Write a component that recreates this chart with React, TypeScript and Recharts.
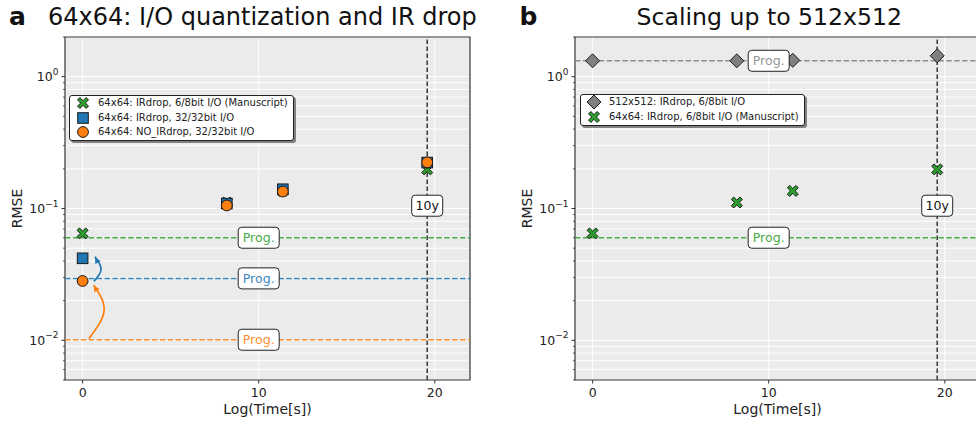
import React from 'react';
import {
  ComposedChart,
  Scatter,
  Line,
  XAxis,
  YAxis,
  CartesianGrid,
  ReferenceLine,
  ReferenceDot,
  ReferenceArea,
  Legend,
} from 'recharts';

const FONT = '"DejaVu Sans", Verdana, sans-serif';

// ---- data ----
const logTimes = [0, 8.19, 11.37, 19.57];
const rmseIrdrop68 = [0.0647, 0.111, 0.136, 0.198];
const rmseIrdrop32 = [0.0419, 0.109, 0.14, 0.223];
const rmseNoIrdrop32 = [0.0282, 0.1055, 0.1345, 0.224];
const rmse512 = [1.32, 1.32, 1.33, 1.44];

const progA = [0.06, 0.0295, 0.0101];
const progB = [1.32, 0.06];
const progLabelX = 10;
const tenYears = 19.57;
const tenYearLabelY = 0.105;

const arrowBlue = [
  { x: 0.64, y: 0.028 },
  { x: 1.05, y: 0.0345 },
  { x: 0.7, y: 0.043 },
];
const arrowOrange = [
  { x: 0.36, y: 0.0103 },
  { x: 1.22, y: 0.0168 },
  { x: 0.63, y: 0.0262 },
];

const xDomain = [-1, 22];
const yDomain = [0.005, 2];
const xTicks = [0, 10, 20];
const yTicks = [
  0.005, 0.006, 0.007, 0.008, 0.009, 0.01, 0.02, 0.03, 0.04, 0.05, 0.06, 0.07, 0.08, 0.09,
  0.1, 0.2, 0.3, 0.4, 0.5, 0.6, 0.7, 0.8, 0.9, 1, 2,
];
const yMajorTicks = [0.01, 0.1, 1];
const yMajorExp = ['−2', '−1', '0'];

const legendA = [
  { kind: 'x', color: '#2ca02c', label: '64x64: IRdrop, 6/8bit I/O (Manuscript)' },
  { kind: 's', color: '#1f77b4', label: '64x64: IRdrop, 32/32bit I/O' },
  { kind: 'o', color: '#ff7f0e', label: '64x64: NO_IRdrop, 32/32bit I/O' },
];
const legendB = [
  { kind: 'd', color: '#808080', label: '512x512: IRdrop, 6/8bit I/O' },
  { kind: 'x', color: '#2ca02c', label: '64x64: IRdrop, 6/8bit I/O (Manuscript)' },
];

// ---- styles ----
const GREEN = '#2ca02c';
const BLUE = '#1f77b4';
const ORANGE = '#ff7f0e';
const GREY = '#808080';
const EDGE = '#1a1a1a';
const BG = '#ebebeb';
const SPINE = '#333333';

const pts = (ys: number[]) => logTimes.map((x, i) => ({ x, y: ys[i] }));

function marker(kind: string, cx: number, cy: number, color: string, key?: any) {
  if (kind === 'x') {
    const h = 6.1;
    const t = 1.65;
    const base = [
      [t, h], [t, t], [h, t], [h, -t], [t, -t], [t, -h],
      [-t, -h], [-t, -t], [-h, -t], [-h, t], [-t, t], [-t, h],
    ];
    const s = Math.SQRT1_2;
    const p = base
      .map(([a, b]) => `${(cx + (a - b) * s).toFixed(2)},${(cy + (a + b) * s).toFixed(2)}`)
      .join(' ');
    return <polygon key={key} points={p} fill={color} stroke={EDGE} strokeWidth={1} strokeLinejoin="miter" />;
  }
  if (kind === 's') {
    const r = 5.3;
    return <rect key={key} x={cx - r} y={cy - r} width={2 * r} height={2 * r} fill={color} stroke={EDGE} strokeWidth={1} />;
  }
  if (kind === 'o') {
    return <circle key={key} cx={cx} cy={cy} r={5.4} fill={color} stroke={EDGE} strokeWidth={1} />;
  }
  const d = 7;
  return (
    <polygon
      key={key}
      points={`${cx},${cy - d} ${cx + d},${cy} ${cx},${cy + d} ${cx - d},${cy}`}
      fill={color}
      stroke={EDGE}
      strokeWidth={1}
    />
  );
}

const shapeOf = (kind: string, color: string) => (p: any) => marker(kind, p.cx, p.cy, color);

const YTick = (props: any) => {
  const { x, y, payload } = props;
  const v = payload.value;
  const idx = yMajorTicks.findIndex((m) => Math.abs(m - v) / m < 1e-6);
  if (idx < 0) {
    return <line x1={x} x2={x - 2} y1={y} y2={y} stroke={SPINE} strokeWidth={0.8} />;
  }
  return (
    <g>
      <line x1={x} x2={x - 3.5} y1={y} y2={y} stroke={SPINE} strokeWidth={1} />
      <text x={x - 6.5} y={y + 4.6} textAnchor="end" fontSize={12.5} fontFamily={FONT} fill="#222">
        <tspan>10</tspan>
        <tspan dy={-6.5} fontSize={9}>
          {yMajorExp[idx]}
        </tspan>
      </text>
    </g>
  );
};

const XTick = (props: any) => {
  const { x, y, payload } = props;
  return (
    <g>
      <line x1={x} x2={x} y1={y} y2={y + 3.5} stroke={SPINE} strokeWidth={1} />
      <text x={x} y={y + 16.8} textAnchor="middle" fontSize={12.5} fontFamily={FONT} fill="#222">
        {payload.value}
      </text>
    </g>
  );
};

const textBox = (label: string, color: string) => (p: any) => {
  const w = label.length > 3 ? 41 : 31;
  const h = 21;
  return (
    <g>
      <rect x={p.cx - w / 2} y={p.cy - h / 2} width={w} height={h} rx={3.5} ry={3.5} fill="#fff" stroke="#222" strokeWidth={1} />
      <text
        x={p.cx}
        y={p.cy + 4.5}
        textAnchor="middle"
        fontSize={12.6}
        fontFamily={FONT}
        fill={color}
      >
        {label}
      </text>
    </g>
  );
};

const arrowDot = (color: string, angleDeg: number) => (p: any) => {
  if (p.index !== 2) return <g key={p.key} />;
  const a = (angleDeg * Math.PI) / 180;
  const L = 6.5;
  const W = 3;
  const bx = p.cx - L * Math.cos(a);
  const by = p.cy - L * Math.sin(a);
  const nx = -Math.sin(a) * W;
  const ny = Math.cos(a) * W;
  return (
    <polygon
      key={p.key}
      points={`${p.cx},${p.cy} ${bx + nx},${by + ny} ${bx - nx},${by - ny}`}
      fill={color}
      stroke="none"
    />
  );
};

const LegendBox = ({ items }: { items: any[] }) => (
  <div
    style={{
      background: '#fff',
      border: '1px solid #222',
      borderRadius: 3,
      boxShadow: '2px 2px 0 rgba(0,0,0,0.45)',
      padding: '0px 5px 1px 5px',
      fontFamily: FONT,
      fontSize: 10,
      color: '#222',
      lineHeight: 1,
    }}
  >
    {items.map((it, i) => (
      <div key={i} style={{ display: 'flex', alignItems: 'center', height: 14.4, whiteSpace: 'nowrap' }}>
        <svg width={16} height={14} style={{ marginRight: 7, overflow: 'visible' }}>
          {marker(it.kind, 8, 7, it.color)}
        </svg>
        <span>{it.label}</span>
      </div>
    ))}
  </div>
);

const lineStyle = { strokeWidth: 1.5, strokeDasharray: '5.5 2.4' };

function PanelA() {
  return (
    <ComposedChart width={490} height={426} margin={{ top: 37, right: 20, bottom: 0, left: 0 }}>
      <CartesianGrid fill={BG} stroke="#ffffff" strokeWidth={1} />
      <XAxis
        type="number"
        dataKey="x"
        domain={xDomain}
        ticks={xTicks}
        interval={0}
        allowDataOverflow
        height={46}
        tickSize={0}
        tickMargin={0}
        axisLine={false}
        tick={<XTick />}
        label={{ value: 'Log(Time[s])', position: 'insideBottom', offset: 12.5, fontSize: 14, fontFamily: FONT, fill: '#222' }}
      />
      <YAxis
        type="number"
        dataKey="y"
        scale="log"
        domain={yDomain}
        ticks={yTicks}
        interval={0}
        allowDataOverflow
        width={65}
        tickSize={0}
        tickMargin={0}
        axisLine={false}
        tick={<YTick />}
        label={{ value: 'RMSE', position: 'center', angle: -90, dx: -15.5, fontSize: 14, fontFamily: FONT, fill: '#222' }}
      />
      <ReferenceLine y={progA[0]} stroke={GREEN} strokeOpacity={0.85} {...lineStyle} />
      <ReferenceLine y={progA[1]} stroke={BLUE} strokeOpacity={0.85} {...lineStyle} />
      <ReferenceLine y={progA[2]} stroke={ORANGE} strokeOpacity={0.85} {...lineStyle} />
      <Line
        data={arrowBlue}
        dataKey="y"
        type="natural"
        stroke={BLUE}
        strokeWidth={1.7}
        dot={arrowDot(BLUE, -118)}
        activeDot={false}
        isAnimationActive={false}
        legendType="none"
      />
      <Line
        data={arrowOrange}
        dataKey="y"
        type="natural"
        stroke={ORANGE}
        strokeWidth={1.7}
        dot={arrowDot(ORANGE, -120)}
        activeDot={false}
        isAnimationActive={false}
        legendType="none"
      />
      <Scatter data={pts(rmseIrdrop68)} shape={shapeOf('x', GREEN)} isAnimationActive={false} />
      <Scatter data={pts(rmseIrdrop32)} shape={shapeOf('s', BLUE)} isAnimationActive={false} />
      <Scatter data={pts(rmseNoIrdrop32)} shape={shapeOf('o', ORANGE)} isAnimationActive={false} />
      <ReferenceLine x={tenYears} stroke="#3a3a3a" strokeWidth={1.5} strokeDasharray="4.5 2.5" />
      <ReferenceDot x={progLabelX} y={progA[0]} r={0} shape={textBox('Prog.', 'rgba(44,160,44,0.9)')} />
      <ReferenceDot x={progLabelX} y={progA[1]} r={0} shape={textBox('Prog.', 'rgba(31,119,180,0.9)')} />
      <ReferenceDot x={progLabelX} y={progA[2]} r={0} shape={textBox('Prog.', 'rgba(255,127,14,0.9)')} />
      <ReferenceDot x={tenYears} y={tenYearLabelY} r={0} shape={textBox('10y', '#111')} />
      <ReferenceArea
        x1={xDomain[0]}
        x2={xDomain[1]}
        y1={yDomain[0]}
        y2={yDomain[1]}
        fill="none"
        stroke={SPINE}
        strokeWidth={1.2}
        ifOverflow="visible"
      />
      <Legend
        layout="vertical"
        align="center"
        verticalAlign="middle"
        wrapperStyle={{ left: 69, top: 95, width: 'auto', height: 'auto' }}
        content={() => <LegendBox items={legendA} />}
      />
    </ComposedChart>
  );
}

function PanelB() {
  return (
    <ComposedChart width={490} height={426} margin={{ top: 37, right: 0, bottom: 0, left: 0 }}>
      <CartesianGrid fill={BG} stroke="#ffffff" strokeWidth={1} />
      <XAxis
        type="number"
        dataKey="x"
        domain={xDomain}
        ticks={xTicks}
        interval={0}
        allowDataOverflow
        height={46}
        tickSize={0}
        tickMargin={0}
        axisLine={false}
        tick={<XTick />}
        label={{ value: 'Log(Time[s])', position: 'insideBottom', offset: 12.5, fontSize: 14, fontFamily: FONT, fill: '#222' }}
      />
      <YAxis
        type="number"
        dataKey="y"
        scale="log"
        domain={yDomain}
        ticks={yTicks}
        interval={0}
        allowDataOverflow
        width={85}
        tickSize={0}
        tickMargin={0}
        axisLine={false}
        tick={<YTick />}
        label={{ value: 'RMSE', position: 'center', angle: -90, dx: -5.5, fontSize: 14, fontFamily: FONT, fill: '#222' }}
      />
      <ReferenceLine y={progB[0]} stroke={GREY} strokeOpacity={0.85} {...lineStyle} />
      <ReferenceLine y={progB[1]} stroke={GREEN} strokeOpacity={0.85} {...lineStyle} />
      <Scatter data={pts(rmse512)} shape={shapeOf('d', GREY)} isAnimationActive={false} />
      <Scatter data={pts(rmseIrdrop68)} shape={shapeOf('x', GREEN)} isAnimationActive={false} />
      <ReferenceLine x={tenYears} stroke="#3a3a3a" strokeWidth={1.5} strokeDasharray="4.5 2.5" />
      <ReferenceDot x={progLabelX} y={progB[0]} r={0} shape={textBox('Prog.', 'rgba(128,128,128,0.85)')} />
      <ReferenceDot x={progLabelX} y={progB[1]} r={0} shape={textBox('Prog.', 'rgba(44,160,44,0.9)')} />
      <ReferenceDot x={tenYears} y={tenYearLabelY} r={0} shape={textBox('10y', '#111')} />
      <ReferenceArea
        x1={xDomain[0]}
        x2={xDomain[1]}
        y1={yDomain[0]}
        y2={yDomain[1]}
        fill="none"
        stroke={SPINE}
        strokeWidth={1.2}
        ifOverflow="visible"
      />
      <Legend
        layout="vertical"
        align="center"
        verticalAlign="middle"
        wrapperStyle={{ left: 90, top: 94, width: 'auto', height: 'auto' }}
        content={() => <LegendBox items={legendB} />}
      />
    </ComposedChart>
  );
}

export default function App() {
  return (
    <div
      style={{
        position: 'absolute',
        left: 0,
        top: 0,
        width: 976,
        height: 426,
        overflow: 'hidden',
        background: '#fff',
        fontFamily: FONT,
      }}
    >
      <div style={{ position: 'absolute', left: 0, top: 0 }}>
        <PanelA />
      </div>
      <div style={{ position: 'absolute', left: 490, top: 0 }}>
        <PanelB />
      </div>
      <svg width={976} height={40} style={{ position: 'absolute', left: 0, top: 0, pointerEvents: 'none' }}>
        <text x={9} y={25} fontSize={25} fontWeight="bold" fontFamily={FONT} fill="#111">
          a
        </text>
        <text x={48} y={25} fontSize={24} fontFamily={FONT} fill="#111">
          64x64: I/O quantization and IR drop
        </text>
        <text x={519.5} y={24.5} fontSize={25} fontWeight="bold" fontFamily={FONT} fill="#111">
          b
        </text>
        <text x={636.5} y={24.5} fontSize={23.6} fontFamily={FONT} fill="#111">
          Scaling up to 512x512
        </text>
      </svg>
    </div>
  );
}
